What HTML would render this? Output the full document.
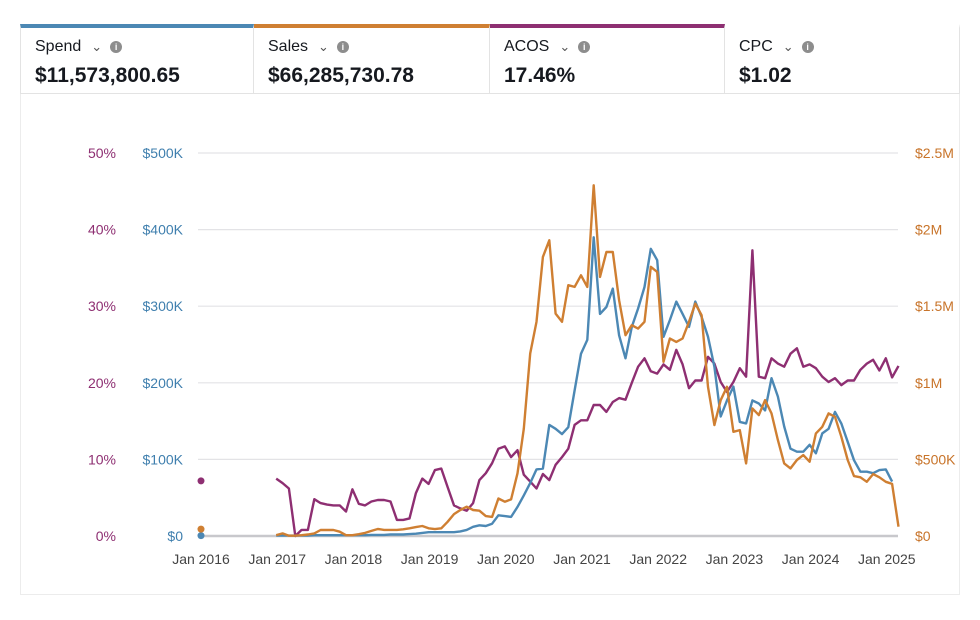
<!DOCTYPE html>
<html><head><meta charset="utf-8">
<style>
body{margin:0;width:980px;height:620px;background:#fff;font-family:"Liberation Sans",sans-serif;overflow:hidden;position:relative}
.card{position:absolute;top:24px;height:70px;width:234px;border-right:1px solid #e3e3e3;border-bottom:1px solid #e3e3e3;box-sizing:border-box;border-top:4px solid transparent}
.lab{position:absolute;left:14px;top:10px;font-size:16px;color:#16191f}
.lab .chev{display:inline-block;margin-left:10px;color:#555;font-size:13px}
.lab .info{display:inline-block;width:12px;height:12px;border-radius:50%;background:#8d8d8d;color:#fff;font-size:9px;text-align:center;line-height:12px;margin-left:8px;vertical-align:1px;font-weight:bold}
.val{position:absolute;left:14px;top:36px;font-size:21px;font-weight:bold;color:#16191f}
#panel{position:absolute;left:20px;top:94px;width:940px;height:501px;border:1px solid #ececec;border-top:none;box-sizing:border-box}
</style></head><body>
<div class="card" style="left:20px;border-top-color:#4c88b4;border-left:1px solid #e3e3e3"><div class="lab">Spend<span class="chev">&#8964;</span><span class="info">i</span></div><div class="val">$11,573,800.65</div></div>
<div class="card" style="left:254px;width:236px;border-top-color:#cf7f32"><div class="lab">Sales<span class="chev">&#8964;</span><span class="info">i</span></div><div class="val">$66,285,730.78</div></div>
<div class="card" style="left:490px;width:235px;border-top-color:#8e2f72"><div class="lab">ACOS<span class="chev">&#8964;</span><span class="info">i</span></div><div class="val">17.46%</div></div>
<div class="card" style="left:725px;width:235px"><div class="lab">CPC<span class="chev">&#8964;</span><span class="info">i</span></div><div class="val">$1.02</div></div>
<div id="panel"></div>
<svg id="chart" width="980" height="620" style="position:absolute;left:0;top:0"></svg>
<script>
const xLabels=["Jan 2016","Jan 2017","Jan 2018","Jan 2019","Jan 2020","Jan 2021","Jan 2022","Jan 2023","Jan 2024","Jan 2025"];
const acosTicks=["0%","10%","20%","30%","40%","50%"];
const spendTicks=["$0","$100K","$200K","$300K","$400K","$500K"];
const salesTicks=["$0","$500K","$1M","$1.5M","$2M","$2.5M"];
// monthly values, index 0 = Jan 2016 (null = no data)
const spend=[0.5,null,null,null,null,null,null,null,null,null,null,null,
0.5,0.5,0.5,0.5,0.5,0.5,1,1,1,1,1,1,1,1,1,1.5,1.5,1.5,2,2,2,2.5,3,4,
5,5,5,5,5,6,8,12,14,13,16,27,26,25,38,53,69,87,88,145,140,133,142,190,
238,256,390,290,299,323,262,232,273,297,325,375,360,260,282,306,290,273,306,286,
260,221,156,177,195,149,147,177,173,164,206,182,143,114,110,110,119,108,134,140,
162,147,123,99,84,84,82,86,87,71,null];
const sales=[45,null,null,null,null,null,null,null,null,null,null,null,
5,17,2,2,5,10,17,39,39,39,28,5,5,12,20,33,46,40,40,40,44,50,58,65,
50,45,50,93,143,170,191,170,165,130,125,245,224,239,409,700,1191,1398,1822,1930,1452,1398,1637,1626,
1702,1626,2289,1691,1854,1854,1539,1311,1376,1354,1398,1757,1724,1137,1289,1267,1289,1398,1517,1441,
974,724,887,974,680,691,474,833,789,887,800,626,474,441,496,528,485,670,713,800,
778,648,496,391,383,354,404,383,354,340,61];
const acos=[7.2,null,null,null,null,null,null,null,null,null,null,null,
7.5,6.9,6.2,0,0.8,0.8,4.8,4.3,4.1,4.0,4.0,3.2,6.1,4.2,4.0,4.5,4.7,4.7,4.5,2.1,2.1,2.3,5.6,7.5,
6.8,8.6,8.8,6.4,4.0,3.6,3.3,4.3,7.3,8.2,9.5,11.4,11.7,10.3,11.2,8.0,7.1,6.2,8.1,7.3,9.3,10.3,11.4,14.5,
15.1,15.1,17.1,17.1,16.2,17.5,18.0,17.8,20.0,22.1,23.2,21.5,21.2,22.4,21.7,24.3,22.4,19.3,20.3,20.3,
23.4,22.5,20.1,18.8,20.1,21.9,20.8,37.3,20.8,20.6,23.2,22.5,22.1,23.8,24.5,22.1,22.4,21.9,20.8,20.1,
20.6,19.7,20.3,20.3,21.7,22.5,23.0,21.6,23.2,20.7,22.2];
const svg=document.getElementById('chart');const NS='http://www.w3.org/2000/svg';
const X0=200,PXM=6.35,Y0=536,H=383,GX0=198,GX1=898;
const xs=m=>X0+m*PXM;
const ySpend=v=>Y0-v/500*H, ySales=v=>Y0-v/2500*H, yAcos=v=>Y0-v/50*H;
function mk(t,a,txt){const e=document.createElementNS(NS,t);for(const k in a)e.setAttribute(k,a[k]);if(txt!=null)e.textContent=txt;svg.appendChild(e);return e;}
acosTicks.forEach((t,i)=>{const y=yAcos(i*10);
const g=mk('line',{x1:GX0,x2:GX1,y1:y,y2:y,stroke:i==0?'#c8c8cc':'#e3e3e6','stroke-width':i==0?2.5:1.2});

const a=mk('text',{x:116,y:y+5,'text-anchor':'end','font-size':14,fill:'#8e2f72'},t);

const s=mk('text',{x:183,y:y+5,'text-anchor':'end','font-size':14,fill:'#3f7fae'},spendTicks[i]);

const r=mk('text',{x:915,y:y+5,'text-anchor':'start','font-size':14,fill:'#c8742a'},salesTicks[i]);
});
xLabels.forEach((t,i)=>{const l=mk('text',{x:xs(i*12)+1,y:564,'text-anchor':'middle','font-size':14,fill:'#444'},t);
});
function series(arr,yf,col,name){let d='';let pen=false;
arr.forEach((v,m)=>{if(v==null||m==0){pen=false;return;}d+=(pen?'L':'M')+xs(m).toFixed(1)+' '+yf(v).toFixed(1);pen=true;});
const p=mk('path',{d:d,fill:'none',stroke:col,'stroke-width':2.4,'stroke-linejoin':'round'});

const c=mk('circle',{cx:xs(0)+1,cy:yf(arr[0]),r:3.5,fill:col});
}
series(acos,yAcos,'#8e2f72','acos');
series(spend,ySpend,'#4c88b4','spend');
series(sales,ySales,'#cf7f32','sales');
</script>
</body></html>
